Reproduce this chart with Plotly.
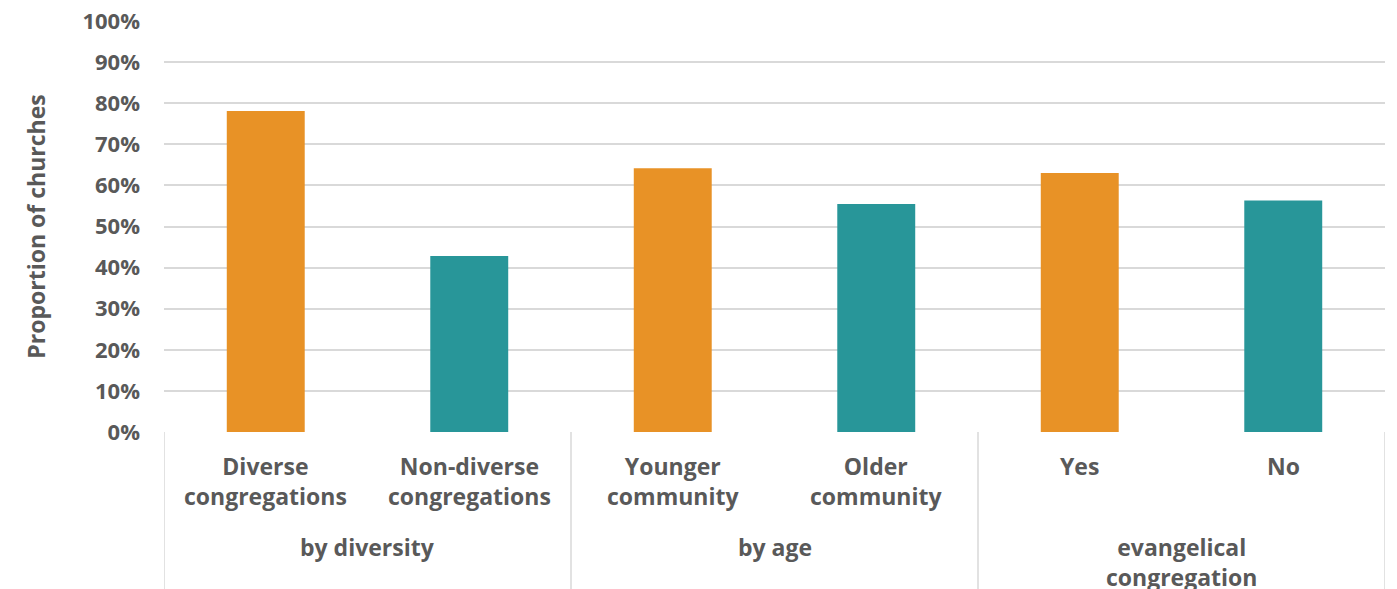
import plotly.graph_objects as go

# Survey shares by church characteristic
categories = ["Diverse congregations", "Non-diverse congregations",
              "Younger community", "Older community", "Yes", "No"]
category_labels = ["Diverse<br>congregations", "Non-diverse<br>congregations",
                   "Younger<br>community", "Older<br>community", "Yes", "No"]
groups = ["by diversity", "by age", "evangelical<br>congregation"]
group_members = [2, 2, 2]
values = [0.781, 0.428, 0.642, 0.555, 0.630, 0.563]
y_ticks = [0.0, 0.1, 0.2, 0.3, 0.4, 0.5, 0.6, 0.7, 0.8, 0.9, 1.0]
y_tick_labels = ["0%", "10%", "20%", "30%", "40%", "50%", "60%", "70%", "80%", "90%", "100%"]

ORANGE = "#E89226"
TEAL = "#289699"
TEXT = "#595959"
GRID = "#D9D9D9"
FONT = "Open Sans"

W, H = 1397, 589
M_L, M_R, M_T, M_B = 164, 12, 21, 157
plot_h = H - M_T - M_B

bar_colors = [ORANGE if i % 2 == 0 else TEAL for i in range(len(values))]

fig = go.Figure(go.Bar(
    x=categories, y=values, marker=dict(color=bar_colors, line=dict(width=0)),
    width=0.383, hoverinfo="x+y",
))

def py(px_from_axis):
    """Convert a pixel offset below the x axis into paper coordinates."""
    return -px_from_axis / plot_h

label_font = dict(family=FONT, size=23, color=TEXT, weight="bold")

annotations = []
# category labels
for cat, lab in zip(categories, category_labels):
    annotations.append(dict(
        x=cat, xref="x", y=py(16), yref="paper", yanchor="top", xanchor="center",
        text=lab, showarrow=False, font=label_font,
    ))
# group labels and divider lines
shapes = []
start = 0
for g, n in zip(groups, group_members):
    mid = start + (n - 1) / 2
    annotations.append(dict(
        x=mid, xref="x", y=py(97), yref="paper", yanchor="top", xanchor="center",
        text=g, showarrow=False, font=label_font,
    ))
    start += n
edges = [-0.5]
acc = -0.5
for n in group_members:
    acc += n
    edges.append(acc)
for e in edges:
    shapes.append(dict(type="line", xref="x", yref="paper", x0=e, x1=e, y0=0, y1=py(170),
                       line=dict(color=GRID, width=1.5)))

fig.update_layout(
    template="none",
    width=W, height=H,
    margin=dict(l=M_L, r=M_R, t=M_T, b=M_B, autoexpand=False),
    paper_bgcolor="white", plot_bgcolor="white",
    showlegend=False,
    font=dict(family=FONT, color=TEXT),
    xaxis=dict(showticklabels=False, showgrid=False, zeroline=False, automargin=False,
               showline=False, ticks="", range=[-0.5, 5.5], fixedrange=True),
    yaxis=dict(range=[0, 1.0], tickvals=y_ticks, ticktext=y_tick_labels,
               showgrid=True, gridcolor=GRID, gridwidth=1.5, zeroline=False,
               showline=False, ticks="", ticklabelstandoff=23, automargin=False,
               tickfont=dict(family=FONT, size=22, color=TEXT, weight="bold"),
               title=dict(text="Proportion of churches", standoff=30,
                          font=dict(family=FONT, size=23, color=TEXT, weight="bold")),
               fixedrange=True),
    annotations=annotations,
    shapes=shapes,
)

fig.write_html("out.html")
